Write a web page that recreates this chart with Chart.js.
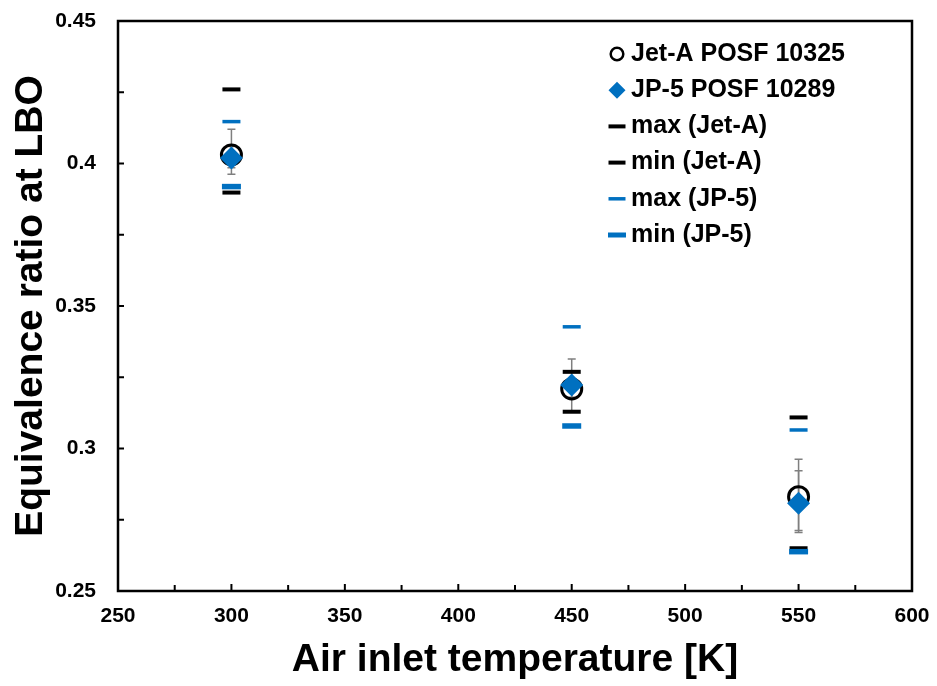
<!DOCTYPE html>
<html>
<head>
<meta charset="utf-8">
<script src="https://cdn.jsdelivr.net/npm/chart.js@4.4.0/dist/chart.umd.min.js"></script>
<style>
html,body{margin:0;padding:0;background:#fff;}
#wrap{width:937px;height:686px;position:relative;}
</style>
</head>
<body>
<div id="wrap"><canvas id="c" width="937" height="686"></canvas></div>
<script>
// ---- data ----
const temperatures = [300, 450, 550];
const jetA   = [0.4030, 0.3209, 0.2831];
const jp5    = [0.4019, 0.3223, 0.2808];
const maxJetA = [0.4260, 0.3269, 0.3109];
const minJetA = [0.3898, 0.3129, 0.2650];
const maxJP5  = [0.4147, 0.3427, 0.3065];
const minJP5  = [0.3919, 0.3079, 0.2638];
const jetAErrLow  = [0.3962, 0.3180, 0.2712];
const jetAErrHigh = [0.4120, 0.3240, 0.2962];
const jp5ErrLow   = [0.3985, 0.3132, 0.2705];
const jp5ErrHigh  = [0.4060, 0.3314, 0.2922];
const xTickValues = [250, 300, 350, 400, 450, 500, 550, 600];
const yTickValues = [0.25, 0.30, 0.35, 0.40, 0.45];
const seriesLabels = ['Jet-A POSF 10325', 'JP-5 POSF 10289', 'max (Jet-A)', 'min (Jet-A)', 'max (JP-5)', 'min (JP-5)'];
const xTitle = 'Air inlet temperature [K]';
const yTitle = 'Equivalence ratio at LBO';

const FONT = '"Liberation Sans", Arial, sans-serif';
const BLUE = '#0070C0';

function pts(vals) { return temperatures.map((t, i) => ({x: t, y: vals[i]})); }

const datasets = [
  {label: seriesLabels[0], data: pts(jetA), pointStyle: 'circle', pointRadius: 10, pointBorderWidth: 3,
   borderColor: '#000', backgroundColor: 'rgba(0,0,0,0)', order: 6,
   legend: {style: 'circle', r: 6.3, bw: 2.5, stroke: '#000', fill: null},
   err: [jetAErrLow, jetAErrHigh]},
  {label: seriesLabels[1], data: pts(jp5), pointStyle: 'rectRot', pointRadius: 11.5, pointBorderWidth: 0,
   borderColor: BLUE, backgroundColor: BLUE, order: 5,
   legend: {style: 'rectRot', r: 8.5, bw: 0, stroke: BLUE, fill: BLUE},
   err: [jp5ErrLow, jp5ErrHigh]},
  {label: seriesLabels[2], data: pts(maxJetA), pointStyle: 'line', pointRadius: 9, pointBorderWidth: 4,
   borderColor: '#000', backgroundColor: '#000', order: 4,
   legend: {style: 'line', r: 8.5, bw: 4, stroke: '#000'}},
  {label: seriesLabels[3], data: pts(minJetA), pointStyle: 'line', pointRadius: 9, pointBorderWidth: 4,
   borderColor: '#000', backgroundColor: '#000', order: 3,
   legend: {style: 'line', r: 8.5, bw: 4, stroke: '#000'}},
  {label: seriesLabels[4], data: pts(maxJP5), pointStyle: 'line', pointRadius: 9, pointBorderWidth: 3.5,
   borderColor: BLUE, backgroundColor: BLUE, order: 2,
   legend: {style: 'line', r: 8.5, bw: 3.5, stroke: BLUE}},
  {label: seriesLabels[5], data: pts(minJP5), pointStyle: 'line', pointRadius: 9.5, pointBorderWidth: 5.5,
   borderColor: BLUE, backgroundColor: BLUE, order: 1,
   legend: {style: 'line', r: 9, bw: 5, stroke: BLUE}}
];
datasets.forEach(d => { d.showLine = false; d.pointHoverRadius = d.pointRadius; });

const errorBars = {
  id: 'errorBars',
  beforeDatasetsDraw(chart) {
    const ctx = chart.ctx, xs = chart.scales.x, ys = chart.scales.y;
    ctx.save();
    ctx.strokeStyle = '#7f7f7f';
    ctx.lineWidth = 1.5;
    chart.data.datasets.forEach(ds => {
      if (!ds.err) return;
      temperatures.forEach((t, i) => {
        const x = xs.getPixelForValue(t);
        const y1 = ys.getPixelForValue(ds.err[0][i]);
        const y2 = ys.getPixelForValue(ds.err[1][i]);
        ctx.beginPath();
        ctx.moveTo(x, y1); ctx.lineTo(x, y2);
        ctx.moveTo(x - 4, y1); ctx.lineTo(x + 4, y1);
        ctx.moveTo(x - 4, y2); ctx.lineTo(x + 4, y2);
        ctx.stroke();
      });
    });
    ctx.restore();
  }
};

const frameAndTicks = {
  id: 'frameAndTicks',
  afterDraw(chart) {
    const ctx = chart.ctx, a = chart.chartArea, xs = chart.scales.x, ys = chart.scales.y;
    ctx.save();
    ctx.strokeStyle = '#000';
    ctx.lineWidth = 2;
    ctx.beginPath();
    const tl = 6;
    for (let i = 0; i < xTickValues.length; i++) {
      const v = xTickValues[i];
      const px = xs.getPixelForValue(v);
      ctx.moveTo(px, a.bottom); ctx.lineTo(px, a.bottom - tl - 1);
      if (i < xTickValues.length - 1) {
        const m = xs.getPixelForValue((v + xTickValues[i + 1]) / 2);
        ctx.moveTo(m, a.bottom); ctx.lineTo(m, a.bottom - tl);
      }
    }
    for (let i = 0; i < yTickValues.length; i++) {
      const v = yTickValues[i];
      const py = ys.getPixelForValue(v);
      ctx.moveTo(a.left, py); ctx.lineTo(a.left + tl, py);
      if (i < yTickValues.length - 1) {
        const m = ys.getPixelForValue((v + yTickValues[i + 1]) / 2);
        ctx.moveTo(a.left, m); ctx.lineTo(a.left + tl, m);
      }
    }
    ctx.stroke();
    ctx.lineWidth = 2.5;
    ctx.strokeRect(a.left, a.top, a.right - a.left, a.bottom - a.top);
    ctx.restore();
  }
};

const insideLegend = {
  id: 'insideLegend',
  afterDraw(chart) {
    const ctx = chart.ctx;
    const mx = 617, tx = 631, y0 = 53, step = 36.2;
    ctx.save();
    ctx.font = 'bold 25px ' + FONT;
    ctx.textBaseline = 'middle';
    ctx.textAlign = 'left';
    chart.data.datasets.forEach((ds, i) => {
      const y = y0 + i * step;
      const L = ds.legend;
      ctx.beginPath();
      if (L.style === 'circle') {
        ctx.arc(mx, y + 1, L.r, 0, Math.PI * 2);
        ctx.strokeStyle = L.stroke; ctx.lineWidth = L.bw; ctx.stroke();
      } else if (L.style === 'rectRot') {
        ctx.moveTo(mx, y + 1 - L.r); ctx.lineTo(mx + L.r, y + 1); ctx.lineTo(mx, y + 1 + L.r); ctx.lineTo(mx - L.r, y + 1);
        ctx.closePath(); ctx.fillStyle = L.fill; ctx.fill();
      } else {
        ctx.moveTo(mx - L.r, y + 1); ctx.lineTo(mx + L.r, y + 1);
        ctx.strokeStyle = L.stroke; ctx.lineWidth = L.bw; ctx.stroke();
      }
      ctx.fillStyle = '#000';
      ctx.fillText(ds.label, tx, y + 1);
    });
    ctx.restore();
  }
};

new Chart(document.getElementById('c'), {
  type: 'scatter',
  data: {datasets},
  options: {
    responsive: false,
    animation: false,
    events: [],
    layout: {padding: {left: 0, top: 21, right: 25, bottom: 0}},
    plugins: {legend: {display: false}, tooltip: {enabled: false}},
    scales: {
      x: {
        type: 'linear', min: 250, max: 600,
        afterBuildTicks: s => { s.ticks = xTickValues.map(v => ({value: v})); },
        afterFit: s => { s.height = 95; s.paddingLeft = 0; s.paddingRight = 0; },
        grid: {display: false, drawTicks: false},
        border: {display: false},
        ticks: {color: '#000', padding: 13, font: {family: FONT, size: 21, weight: 'bold', lineHeight: 1.2},
                maxRotation: 0, callback: v => String(v)},
        title: {display: true, text: xTitle, color: '#000', padding: {top: 0, bottom: 6},
                font: {family: FONT, size: 39, weight: 'bold', lineHeight: 1}}
      },
      y: {
        type: 'linear', min: 0.25, max: 0.45,
        afterBuildTicks: s => { s.ticks = yTickValues.map(v => ({value: v})); },
        afterFit: s => { s.width = 118; s.paddingTop = 0; s.paddingBottom = 0; },
        grid: {display: false, drawTicks: false},
        border: {display: false},
        ticks: {color: '#000', padding: 22, font: {family: FONT, size: 21, weight: 'bold', lineHeight: 1.2},
                callback: v => String(parseFloat(Number(v).toFixed(2)))},
        title: {display: true, text: yTitle, color: '#000', padding: {top: 11.5, bottom: 0},
                font: {family: FONT, size: 39, weight: 'bold', lineHeight: 1}}
      }
    }
  },
  plugins: [errorBars, frameAndTicks, insideLegend]
});
</script>
</body>
</html>
